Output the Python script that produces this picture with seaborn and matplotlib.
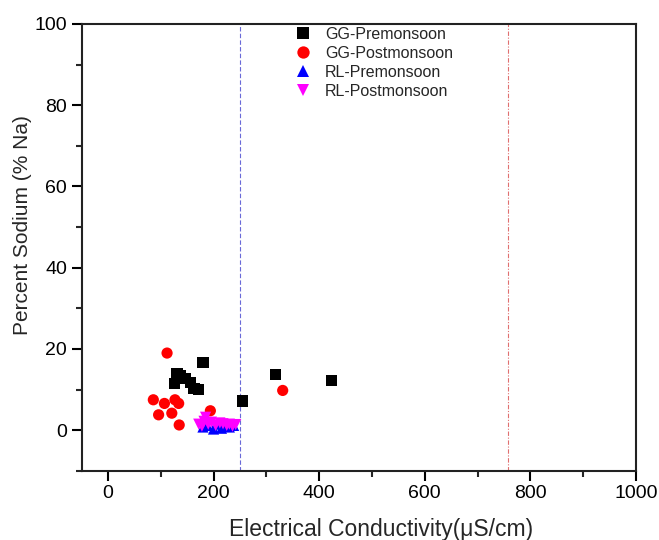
import matplotlib
matplotlib.use("Agg")
import matplotlib.pyplot as plt
from matplotlib.ticker import MultipleLocator
import seaborn as sns
import pandas as pd

sns.set_style("white")
plt.rcParams['font.family'] = ['Liberation Sans', 'DejaVu Sans']

gg_pre_x = [126, 131, 138, 146, 156, 163, 172, 180, 255, 318, 423]
gg_pre_y = [11.5, 14.0, 13.5, 12.8, 11.8, 10.2, 10.0, 16.7, 7.2, 13.7, 12.3]

gg_post_x = [86, 96, 107, 112, 121, 127, 134, 135, 194, 331]
gg_post_y = [7.5, 3.8, 6.6, 19.0, 4.2, 7.5, 6.6, 1.3, 4.8, 9.8]

rl_pre_x = [180, 188, 200, 208, 215, 222, 230, 238]
rl_pre_y = [0.8, 1.2, 0.3, 1.5, 0.5, 1.0, 0.8, 1.2]

rl_post_x = [172, 178, 182, 185, 190, 196, 204, 212, 218, 225, 230, 236, 242]
rl_post_y = [1.5, 1.0, 2.2, 3.2, 1.5, 2.0, 1.2, 1.8, 1.6, 1.2, 1.5, 1.0, 1.4]

series = ["GG-Premonsoon", "GG-Postmonsoon", "RL-Premonsoon", "RL-Postmonsoon"]
ec_limit_low = 250
ec_limit_high = 757

frames = []
for name, xs, ys in zip(series,
                        [gg_pre_x, gg_post_x, rl_pre_x, rl_post_x],
                        [gg_pre_y, gg_post_y, rl_pre_y, rl_post_y]):
    frames.append(pd.DataFrame({"EC": xs, "Na": ys, "Series": name}))
df = pd.concat(frames, ignore_index=True)

palette = {"GG-Premonsoon": "black", "GG-Postmonsoon": "#ff0000",
           "RL-Premonsoon": "#0000ff", "RL-Postmonsoon": "#ff00ff"}
markers = {"GG-Premonsoon": "s", "GG-Postmonsoon": "o",
           "RL-Premonsoon": "^", "RL-Postmonsoon": "v"}

fig = plt.figure(figsize=(6.59, 5.40), dpi=100)
ax = fig.add_axes([0.1237, 0.128, 0.8413, 0.8276])

sns.scatterplot(data=df, x="EC", y="Na", hue="Series", style="Series",
                hue_order=series, style_order=series,
                palette=palette, markers=markers, s=65, linewidth=0,
                ax=ax)

ax.axvline(ec_limit_low, color="#6a6ad8", lw=0.8, ls=(0, (4, 2)), zorder=0)
ax.axvline(ec_limit_high, color="#e07070", lw=0.8, ls=(0, (4, 1.5, 1, 1.5)), zorder=0)

ax.set_xlim(-50, 1000)
ax.set_ylim(-10, 100)
ax.xaxis.set_major_locator(MultipleLocator(200))
ax.xaxis.set_minor_locator(MultipleLocator(100))
ax.yaxis.set_major_locator(MultipleLocator(20))
ax.yaxis.set_minor_locator(MultipleLocator(10))
ax.set_xticks([0, 200, 400, 600, 800, 1000])
ax.set_yticks([0, 20, 40, 60, 80, 100])
ax.tick_params(which="major", direction="out", length=7, width=1.5, labelsize=14,
               bottom=True, left=True, colors="black")
ax.tick_params(which="minor", direction="out", length=4, width=1.5,
               bottom=True, left=True)
for sp in ax.spines.values():
    sp.set_linewidth(1.5)
    sp.set_color("#222222")

ax.set_xlabel("Electrical Conductivity(\u03bcS/cm)", fontsize=16.5)
ax.set_ylabel("Percent Sodium (% Na)", fontsize=15)
ax.xaxis.set_label_coords(0.54, -0.105)
ax.yaxis.set_label_coords(-0.09, 0.55)

leg = ax.legend(loc="upper left", bbox_to_anchor=(0.353, 1.015), frameon=False,
                fontsize=11.5, handletextpad=0.4, labelspacing=0.25,
                markerscale=1.1, borderaxespad=0.2)

fig.savefig("out.png", dpi=100)
